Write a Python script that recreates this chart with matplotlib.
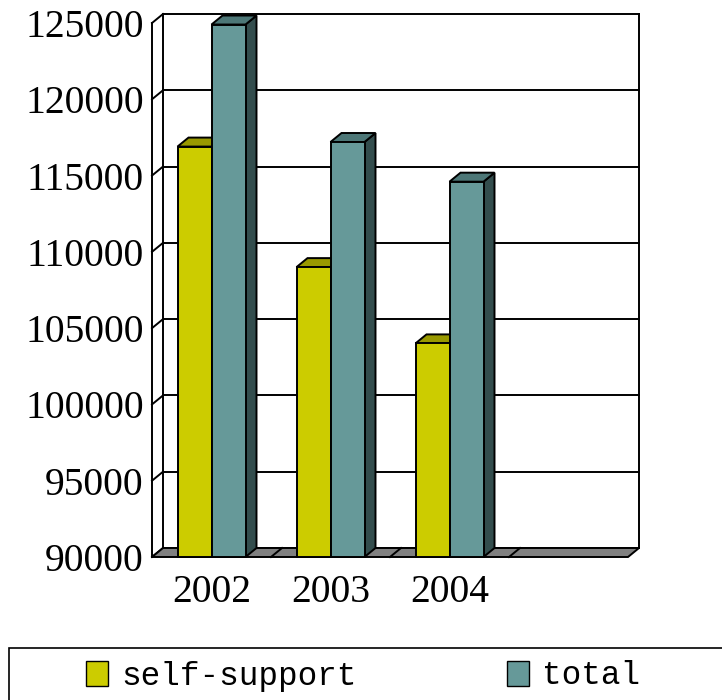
#-------------------------------------------------------------------------------
import matplotlib
matplotlib.use('Agg')
import matplotlib.pyplot as plt
from matplotlib.patches import Polygon, Rectangle, Patch
#-------------------------------------------------------------------------------
years        = ['2002', '2003', '2004', '']
self_support = [116900, 109000, 104000]
total        = [124900, 117200, 114600]
y_ticks      = [90000, 95000, 100000, 105000, 110000, 115000, 120000, 125000]
y_min, y_max = 90000, 125000
#-------------------------------------------------------------------------------
c_yel_face  = '#CCCC00'
c_yel_top   = '#999900'
c_yel_side  = '#666600'
c_teal_face = '#669999'
c_teal_top  = '#4D7777'
c_teal_side = '#334D4D'
c_floor     = '#808080'
lw          = 1.4
W, H        = 722, 700
#-------------------------------------------------------------------------------
fig = plt.figure(figsize=(W/100, H/100), dpi=100)
# front plane of the plot: x 152..628 px, y 23..557 px (from top)
ax = fig.add_axes([152/W, (H-557)/H, 476/W, 534/H])
ax.set_xlim(0, len(years))
ax.set_ylim(y_min, y_max)
for s in ax.spines.values():
    s.set_visible(False)

px_x = len(years)/476.          # data units per pixel
px_y = (y_max-y_min)/534.
dx = 11*px_x
dy = 9*px_y
#-------------------------------------------------------------------------------
# back wall grid + left wall
nc = len(years)
for v in y_ticks:
    ax.plot([dx, nc+dx], [v+dy, v+dy], color='k', lw=lw, clip_on=False, zorder=1)
    ax.plot([0, dx], [v, v+dy], color='k', lw=lw, clip_on=False, zorder=1)
ax.plot([dx, dx], [y_min+dy, y_max+dy], color='k', lw=lw, clip_on=False, zorder=1)
ax.plot([nc+dx, nc+dx], [y_min+dy, y_max+dy], color='k', lw=lw, clip_on=False, zorder=1)
ax.plot([0, 0], [y_min, y_max], color='k', lw=lw, clip_on=False, zorder=1)

# floor
ax.add_patch(Polygon([(0, y_min), (nc, y_min), (nc+dx, y_min+dy), (dx, y_min+dy)],
                     closed=True, fc=c_floor, ec='k', lw=lw, clip_on=False, zorder=2))
for i in range(1, nc):
    ax.plot([i, i+dx], [y_min, y_min+dy], color='k', lw=lw, clip_on=False, zorder=2)
#-------------------------------------------------------------------------------
bw = 34/119.
def bar3d(x0, v, face, top, side, z):
    x1 = x0 + bw
    ax.add_patch(Polygon([(x1, y_min), (x1, v), (x1+dx, v+dy), (x1+dx, y_min+dy)],
                         closed=True, fc=side, ec='k', lw=lw, clip_on=False, zorder=z))
    ax.add_patch(Polygon([(x0, v), (x1, v), (x1+dx, v+dy), (x0+dx, v+dy)],
                         closed=True, fc=top, ec='k', lw=lw, clip_on=False, zorder=z))
    ax.bar(x0, v-y_min, bottom=y_min, width=bw, align='edge', color=face,
           edgecolor='k', linewidth=lw, clip_on=False, zorder=z)

for i in range(len(self_support)):
    bar3d(i+0.5-bw, self_support[i], c_yel_face, c_yel_top, c_yel_side, 3+2*i)
    bar3d(i+0.5, total[i], c_teal_face, c_teal_top, c_teal_side, 4+2*i)
#-------------------------------------------------------------------------------
ax.set_yticks(y_ticks)
ax.set_yticklabels([str(v) for v in y_ticks], family='Liberation Serif', fontsize=28.5)
ax.set_xticks([i+0.5 for i in range(nc)])
ax.set_xticklabels(years, family='Liberation Serif', fontsize=28.5)
ax.tick_params(axis='y', length=0, pad=6)
ax.tick_params(axis='x', length=0, pad=12)
#-------------------------------------------------------------------------------
# legend box (runs off the right and bottom edge)
fig.patches.append(Rectangle((9/W, -0.05), 1.0, (H-648)/H+0.05, transform=fig.transFigure,
                             fc='white', ec='k', lw=1.2))
handles = [Patch(fc=c_yel_face, ec='k', lw=1.0, label='self-support'),
           Patch(fc=c_teal_face, ec='k', lw=1.0, label='total')]
fig.legend(handles=handles, loc='center left', bbox_to_anchor=(86/W, (H-676)/H),
           ncol=2, frameon=False, prop={'family': 'Liberation Mono', 'size': 23.5},
           handlelength=0.68, handleheight=0.8, handletextpad=0.4,
           columnspacing=4.6, borderpad=0, borderaxespad=0)
#-------------------------------------------------------------------------------
fig.savefig('out.png', dpi=100)
